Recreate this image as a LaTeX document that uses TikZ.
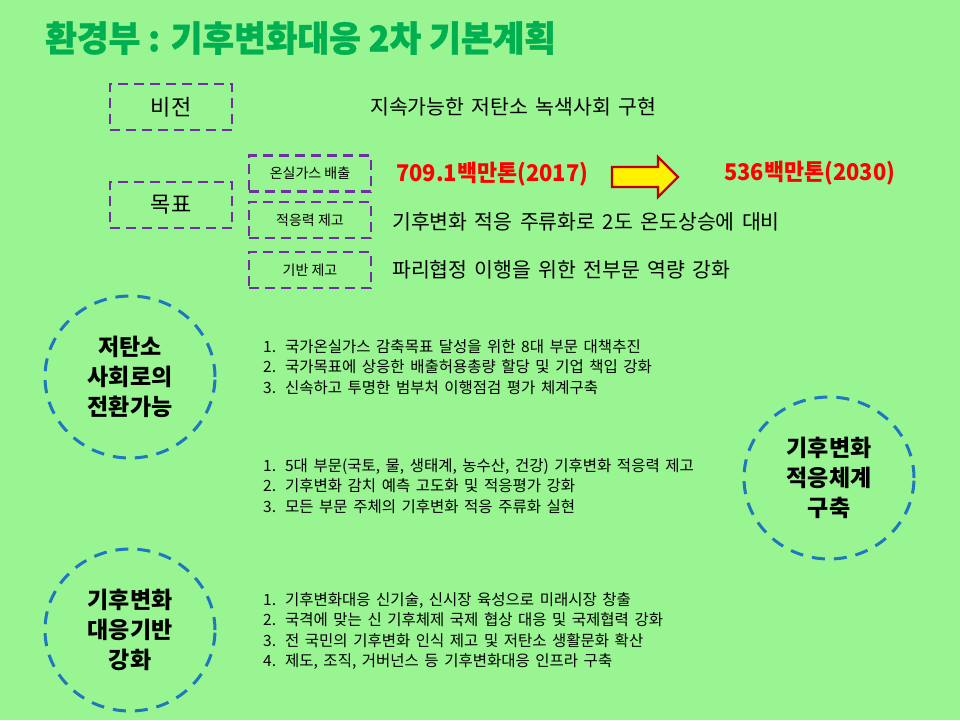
\documentclass[tikz,border=0pt]{standalone}
\usepackage{fontspec}
\setmainfont{Noto Sans CJK KR}
\newfontfamily\krtitle[FakeStretch=0.97, BoldFeatures={FakeBold=1.2}]{Noto Sans CJK KR}
\newfontfamily\krred[FakeStretch=0.95]{Noto Sans CJK KR}
\newfontfamily\krtext[WordSpace=1.6]{Noto Sans CJK KR}
\usepackage{xcolor}
\definecolor{bggreen}{HTML}{99F592}
\definecolor{titlegreen}{HTML}{00B050}
\definecolor{dashpurple}{HTML}{7030A0}
\definecolor{dashblue}{HTML}{1F77C0}
\definecolor{arrowred}{HTML}{C00000}
\usetikzlibrary{positioning,shapes.geometric}
\tikzset{
  tbox/.style  ={rectangle, draw=dashpurple, line width=2.8pt, dash pattern=on 10pt off 6pt,
                 minimum width=122pt, minimum height=46pt, inner sep=0pt,
                 font=\fontsize{22}{24}\selectfont},
  sbox/.style  ={tbox, minimum height=36pt, font=\fontsize{14}{16}\selectfont},
  ring/.style  ={ellipse, draw=dashblue, line width=3pt, dash pattern=on 13pt off 9pt,
                 minimum width=170pt, minimum height=162pt, inner sep=0pt, align=center,
                 font=\bfseries\fontsize{23}{30}\selectfont},
  gtxt/.style  ={anchor=west, inner sep=0pt, font=\krtext\fontsize{20.5}{24}\selectfont},
  rtxt/.style  ={anchor=west, inner sep=0pt, text=red, font=\krred\bfseries\fontsize{23}{26}\selectfont},
  items/.style ={anchor=north west, inner sep=0pt, align=left,
                 font=\krtext\fontsize{15.5}{20.5}\selectfont},
  bigarrow/.style={draw=arrowred, fill=yellow, line width=2.4pt, line join=miter},
}
\newcommand{\itm}[1]{#1.\hspace{9pt}}

\begin{document}
\begin{tikzpicture}[x=1pt,y=-1pt]
  \fill[bggreen] (0,0) rectangle (960,720);
  \useasboundingbox (0,0) rectangle (960,720);
  % title
  \node[anchor=west, inner sep=0pt, text=titlegreen, font=\krtitle\bfseries\fontsize{35.5}{38}\selectfont]
    (title) at (45,38) {환경부 : 기후변화대응 2차 기본계획};
  % vision and goals
  \node[tbox] (vis)  at (171,107) {비전};
  \node[tbox] (goal) at (171,205) {목표};
  \node[sbox] (ghg)   at (310,173.5) {온실가스 배출};
  \node[sbox] (adapt) at (310,220)   {적응력 제고};
  \node[sbox] (base)  at (310,270)   {기반 제고};
  \node[gtxt] (vistxt)   at (370,107) {지속가능한 저탄소 녹색사회 구현};
  \node[rtxt] (r17)      at (396,174) {709.1백만톤(2017)};
  \node[rtxt] (r30)      at (724,173) {536백만톤(2030)};
  \node[gtxt] (adapttxt) at (392,222) {기후변화 적응 주류화로 2도 온도상승에 대비};
  \node[gtxt] (basetxt)  at (392,270) {파리협정 이행을 위한 전부문 역량 강화};
  \draw[bigarrow] (612,167) -- (658,167) -- (658,157) -- (678,177)
    -- (658,197) -- (658,187) -- (612,187) -- cycle;
  % strategies
  \node[ring] (lowc)  at (130,377) {저탄소\\사회로의\\전환가능};
  \node[ring] (adsys) at (829,478) {기후변화\\적응체계\\구축};
  \node[ring] (infra) at (130,630) {기후변화\\대응기반\\강화};
  \node[items] (lst1) at (263,339) {\itm{1}국가온실가스 감축목표 달성을 위한 8대 부문 대책추진\\
    \itm{2}국가목표에 상응한 배출허용총량 할당 및 기업 책입 강화\\
    \itm{3}신속하고 투명한 범부처 이행점검 평가 체계구축};
  \node[items] (lst2) at (263,458) {\itm{1}5대 부문(국토, 물, 생태계, 농수산, 건강) 기후변화 적응력 제고\\
    \itm{2}기후변화 감치 예측 고도화 및 적응평가 강화\\
    \itm{3}모든 부문 주체의 기후변화 적응 주류화 실현};
  \node[items] (lst3) at (263,592) {\itm{1}기후변화대응 신기술, 신시장 육성으로 미래시장 창출\\
    \itm{2}국격에 맞는 신 기후체제 국제 협상 대응 및 국제협력 강화\\
    \itm{3}전 국민의 기후변화 인식 제고 및 저탄소 생활문화 확산\\
    \itm{4}제도, 조직, 거버넌스 등 기후변화대응 인프라 구축};
\end{tikzpicture}
\end{document}
